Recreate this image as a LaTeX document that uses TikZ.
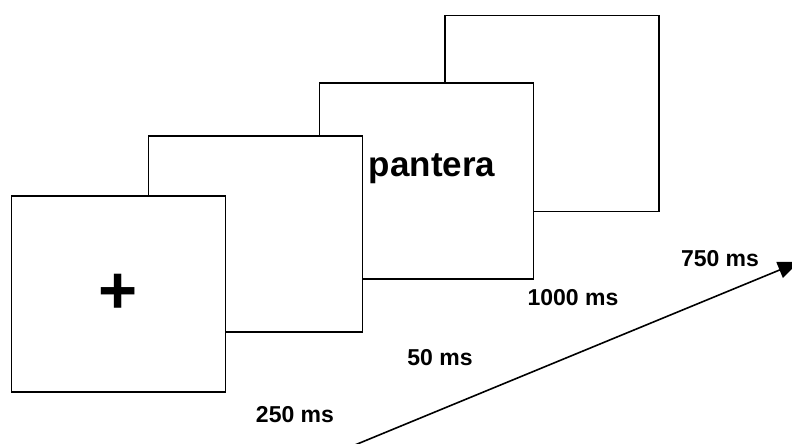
\documentclass[tikz,border=0pt]{standalone}
\usepackage{fontspec}
\setmainfont{Liberation Sans}
\usetikzlibrary{arrows.meta}
\begin{document}
\begin{tikzpicture}[x=1pt,y=-1pt,
  frame/.style={draw=black,line width=1.8pt,fill=white,rectangle,inner sep=0pt,minimum width=214pt,minimum height=196pt},
  lbl/.style={font=\bfseries\fontsize{23}{23}\selectfont,inner sep=0pt}]
\useasboundingbox (0,0) rectangle (792,444);
\clip (0,0) rectangle (792,444);
\fill[white] (0,0) rectangle (792,444);
\node[frame] (b4) at (552,113.5) {};
\node[frame] (b3) at (426.5,181) {};
\node[frame] (b2) at (255.5,234) {};
\node[frame] (b1) at (118.5,294) {};
\node[font=\bfseries\fontsize{67}{67}\selectfont,inner sep=0pt] (plus) at (b1.center) {+};
\node[font=\bfseries\fontsize{35}{35}\selectfont,inner sep=0pt,anchor=base] (word) at (432,176) {pantera};
\node[lbl] (t1) at (295,415) {250 ms};
\node[lbl] (t2) at (440,358) {50 ms};
\node[lbl] (t3) at (573,298) {1000 ms};
\node[lbl] (t4) at (720,259) {750 ms};
\coordinate (a0) at (350,447);
\coordinate (a1) at (799,262);
\draw[line width=1.6pt,-{Triangle[length=21pt,width=17pt]}] (a0) -- (a1);
\end{tikzpicture}
\end{document}
